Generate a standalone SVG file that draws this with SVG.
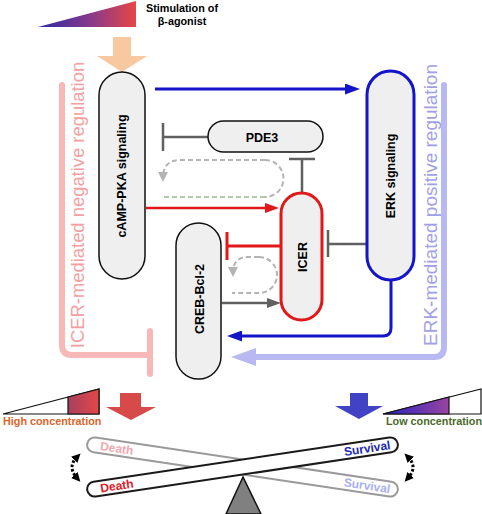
<svg xmlns="http://www.w3.org/2000/svg" width="482" height="514" viewBox="0 0 482 514">
<defs>
<style>
.node{fill:#efefef;stroke:#111;stroke-width:1.5}
.lbl{font-family:"Liberation Sans",Arial,sans-serif;font-weight:bold;font-size:12.5px;fill:#000;text-anchor:middle}
.side{font-family:"Liberation Sans",Arial,sans-serif;text-anchor:middle}
.cap{font-family:"Liberation Sans",Arial,sans-serif;font-weight:bold;font-size:10.8px}
.bar{font-family:"Liberation Sans",Arial,sans-serif;font-weight:bold;font-size:12px;text-anchor:middle}
.gt{stroke:#606060;stroke-width:2.5;fill:none}
.dash{stroke:#b4b4b4;stroke-width:2;fill:none;stroke-dasharray:5,3}
</style>
<linearGradient id="gTop" x1="0" y1="0" x2="1" y2="0">
<stop offset="0" stop-color="#2a2aa8"/><stop offset="0.55" stop-color="#8a3a8a"/><stop offset="1" stop-color="#e64646"/>
</linearGradient>
<linearGradient id="gHigh" x1="0" y1="0" x2="1" y2="0">
<stop offset="0" stop-color="#a8405e"/><stop offset="1" stop-color="#e24848"/>
</linearGradient>
<linearGradient id="gLow" x1="0" y1="0" x2="1" y2="0">
<stop offset="0" stop-color="#2222c0"/><stop offset="1" stop-color="#9a44a0"/>
</linearGradient>
<marker id="mb" viewBox="0 0 15 11" refX="10" refY="5.5" markerWidth="15" markerHeight="11" markerUnits="userSpaceOnUse" orient="auto"><path d="M0,0 L15,5.5 L0,11 z" fill="#1414c8"/></marker>
<marker id="mr" viewBox="0 0 14 10" refX="9" refY="5" markerWidth="14" markerHeight="10" markerUnits="userSpaceOnUse" orient="auto"><path d="M0,0 L14,5 L0,10 z" fill="#e01818"/></marker>
<marker id="mg" viewBox="0 0 14 10" refX="9" refY="5" markerWidth="14" markerHeight="10" markerUnits="userSpaceOnUse" orient="auto"><path d="M0,0 L14,5 L0,10 z" fill="#606060"/></marker>
<marker id="ml" viewBox="0 0 10 10" refX="6" refY="5" markerWidth="10" markerHeight="10" markerUnits="userSpaceOnUse" orient="auto"><path d="M0,0 L10,5 L0,10 z" fill="#b4b4b4"/></marker>
<marker id="mk" viewBox="0 0 9 9" refX="4" refY="4.5" markerWidth="9" markerHeight="9" markerUnits="userSpaceOnUse" orient="auto-start-reverse"><path d="M0,0 L9,4.5 L0,9 z" fill="#000"/></marker>
</defs>

<g id="stimulus">
<polygon points="38,27 136,27 136,1" fill="url(#gTop)"/>
<text class="cap" x="182" y="12" text-anchor="middle" font-size="11">Stimulation of</text>
<text class="cap" x="182" y="25" text-anchor="middle" font-size="11">β-agonist</text>
<polygon points="113,37 131,37 131,56 147,56 122,72 97,56 113,56" fill="#f8c8a0"/>
</g>

<g id="brackets">
<path d="M62,85 L62,345 Q62,355 72,355 L150,355" fill="none" stroke="#f8b8b8" stroke-width="6" stroke-linecap="round"/>
<path d="M150,331 L150,374" fill="none" stroke="#f8b8b8" stroke-width="6" stroke-linecap="round"/>
<text class="side" transform="translate(84,205) rotate(-90)" font-size="18.4" fill="#f4a0a0">ICER-mediated negative regulation</text>
<path d="M444,85 L444,347 Q444,357 434,357 L252,357" fill="none" stroke="#b8b8f2" stroke-width="6" stroke-linecap="round"/>
<polygon points="231,357 256,348 256,366" fill="#b8b8f2"/>
<text class="side" transform="translate(437,205) rotate(-90)" font-size="19" fill="#a0a0e8">ERK-mediated positive regulation</text>
</g>

<g id="connectors">
<path d="M155,89 L355,89" stroke="#1414c8" stroke-width="3" fill="none" marker-end="url(#mb)"/>
<path d="M391,280 L391,328 Q391,336 383,336 L232,336" stroke="#1414c8" stroke-width="3" fill="none" marker-end="url(#mb)"/>
<path d="M146,208 L274,208" stroke="#e01818" stroke-width="2.5" fill="none" marker-end="url(#mr)"/>
<path d="M222,303 L276,303" stroke="#606060" stroke-width="2.5" fill="none" marker-end="url(#mg)"/>
<path class="gt" d="M208,137 L163,137 M163,123 L163,151"/>
<path class="gt" d="M302,193 L302,159 M289,159 L315,159"/>
<path class="gt" d="M367,244 L328,244 M328,230 L328,257"/>
<path d="M281,246 L227,246 M227,232 L227,260" stroke="#e01818" stroke-width="3" fill="none"/>
<path class="dash" d="M265,160 L180,160 Q163,160 163,178" marker-end="url(#ml)"/>
<path class="dash" d="M265,160 A18.5,18.5 0 0 1 265,197"/>
<path class="dash" d="M265,197 L162,197" style="stroke:#b4c8ac"/>
<path class="dash" d="M259,257 L248,257 Q233,257 233,273" marker-end="url(#ml)"/>
<path class="dash" d="M259,257 A18,18 0 0 1 259,293 L232,293"/>
</g>

<g id="camp-pka">
<rect class="node" x="99" y="72" width="46" height="207" rx="23"/>
<text class="lbl" transform="translate(126,176) rotate(-90)">cAMP-PKA signaling</text>
</g>
<g id="erk">
<rect class="node" x="367" y="71" width="47" height="209" rx="23.5" style="stroke:#1414c8;stroke-width:3"/>
<text class="lbl" transform="translate(395,176) rotate(-90)" font-size="13">ERK signaling</text>
</g>
<g id="pde3">
<rect class="node" x="208" y="121" width="115" height="31" rx="15.5"/>
<text class="lbl" x="262" y="141.5">PDE3</text>
</g>
<g id="icer">
<rect class="node" x="281" y="193" width="41" height="127" rx="20.5" style="stroke:#e01818;stroke-width:3"/>
<text class="lbl" transform="translate(306.5,257) rotate(-90)">ICER</text>
</g>
<g id="creb">
<rect class="node" x="176" y="223" width="45" height="156" rx="22.5"/>
<text class="lbl" transform="translate(203.5,299) rotate(-90)">CREB-Bcl-2</text>
</g>

<g id="concentration">
<polygon points="3,414 99,389 99,414" fill="#fff" stroke="#111" stroke-width="1.2"/>
<polygon points="68,397 99,389 99,414 68,414" fill="url(#gHigh)" stroke="#111" stroke-width="1.2"/>
<text class="cap" x="3" y="425" fill="#dc6428">High concentration</text>
<polygon points="120,393 141,393 141,407 156,407 131,420 106,407 120,407" fill="#d84a4a"/>
<polygon points="383,414 481,389 481,414" fill="#fff" stroke="#111" stroke-width="1.2"/>
<polygon points="383,414 449,397 449,414" fill="url(#gLow)" stroke="#111" stroke-width="1.2"/>
<text class="cap" x="386" y="425" fill="#4a6a28">Low concentration</text>
<polygon points="350,393 368,393 368,406 383,406 359,419 335,406 350,406" fill="#4242c4"/>
</g>

<g id="seesaw">
<g transform="translate(242.5,467) rotate(8.5)">
<rect x="-157" y="-7.5" width="314" height="15" rx="7.5" fill="#fff" stroke="#9a9a9a" stroke-width="2"/>
<text class="bar" x="-127" y="4.2" fill="#f0a8b0">Death</text>
<text class="bar" x="126" y="4.2" fill="#a8b0f0">Survival</text>
</g>
<g transform="translate(242.5,467) rotate(-8.5)">
<rect x="-157" y="-7.5" width="314" height="15" rx="7.5" fill="#fff" stroke="#1a1a1a" stroke-width="2"/>
<text class="bar" x="-127" y="4.2" fill="#e0202a">Death</text>
<text class="bar" x="126" y="4.2" fill="#1a2ab0">Survival</text>
</g>
<polygon points="243,477 226,514 261,514" fill="#808080" stroke="#111" stroke-width="1.5"/>
<path d="M77,457 Q67,467 77,478" fill="none" stroke="#000" stroke-width="3" stroke-dasharray="2.5,2" marker-start="url(#mk)" marker-end="url(#mk)"/>
<path d="M408,457 Q418,467 408,478" fill="none" stroke="#000" stroke-width="3" stroke-dasharray="2.5,2" marker-start="url(#mk)" marker-end="url(#mk)"/>
</g>
</svg>
